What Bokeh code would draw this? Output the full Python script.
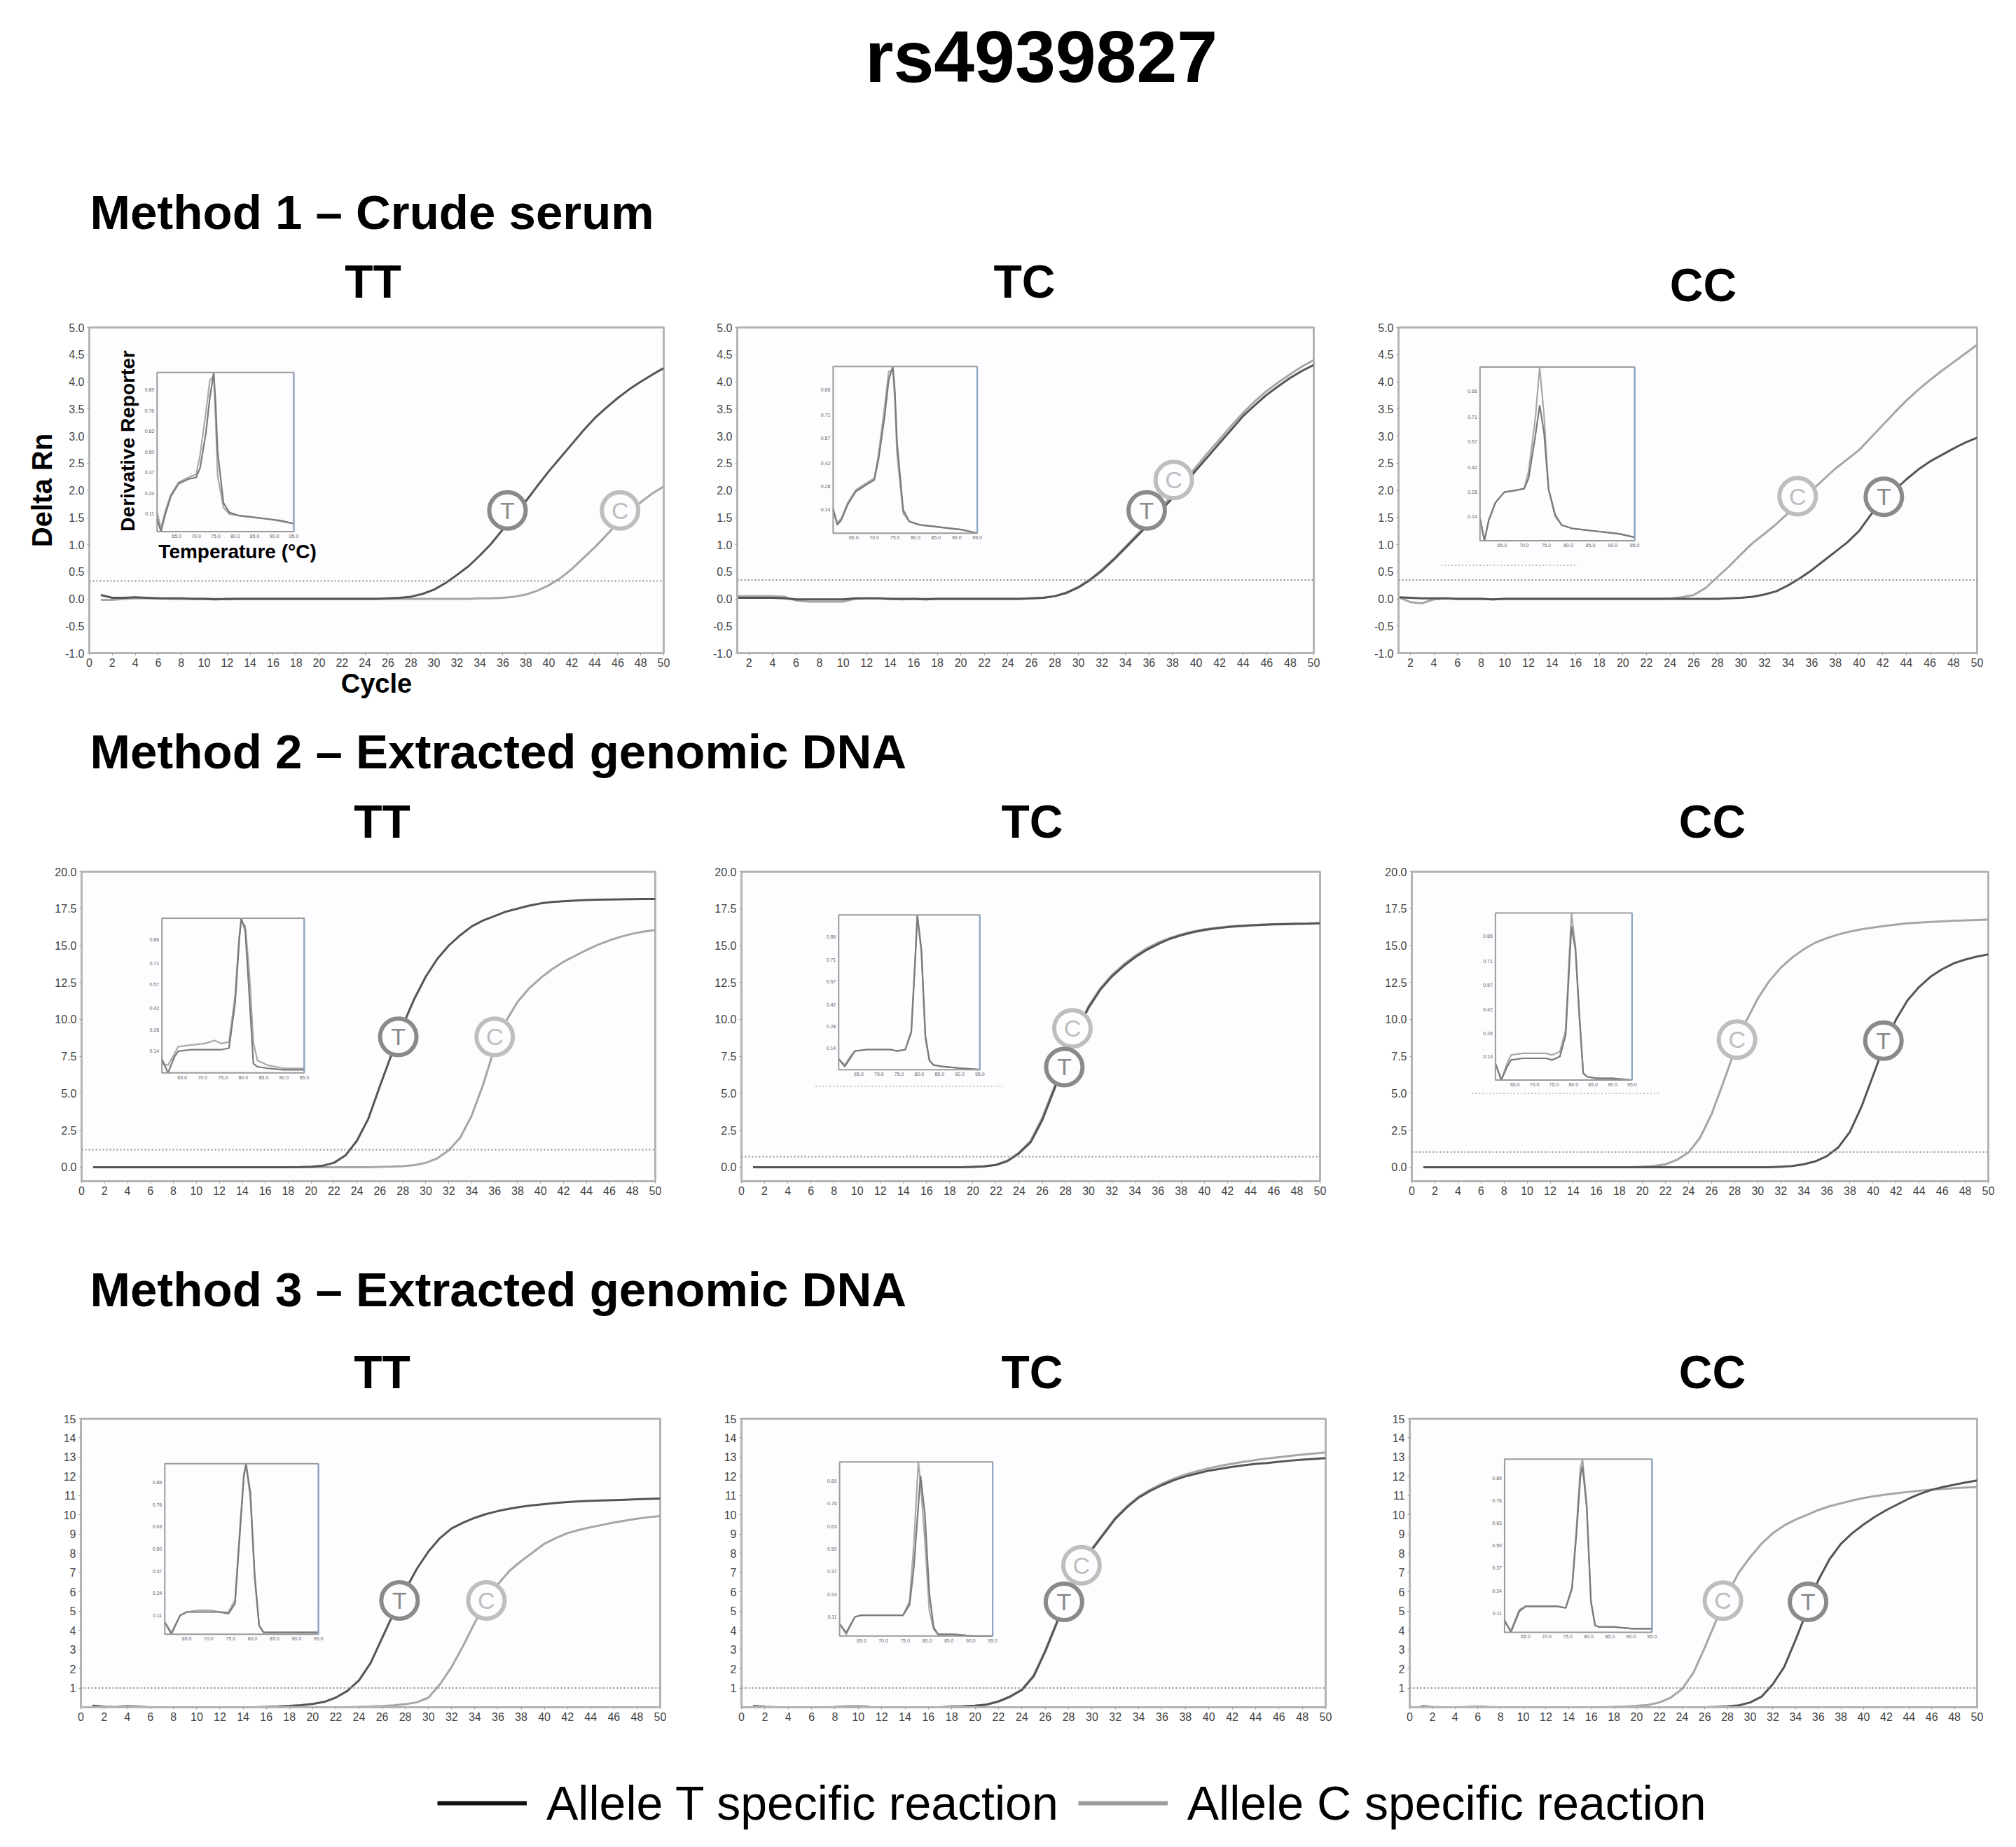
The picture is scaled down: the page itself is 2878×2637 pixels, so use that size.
import math

from bokeh.core.properties import value
from bokeh.embed import file_html
from bokeh.layouts import column, row
from bokeh.models import (FixedTicker, Label, Legend, LegendItem,
                          NumeralTickFormatter, Range1d, Span)
from bokeh.plotting import figure
from bokeh.resources import INLINE

# ---------------------------------------------------------------- data
cycles = list(range(1, 51))

# Method 1 - crude serum (Delta Rn per cycle)
m1_tt_t = [0.07, 0.02, 0.02, 0.03, 0.02, 0.01, 0.01, 0.01, 0.00, 0.00,
           -0.01, 0.00, 0.00, 0.00, 0.00, 0.00, 0.00, 0.00, 0.00, 0.00,
           0.00, 0.00, 0.00, 0.00, 0.00, 0.01, 0.02, 0.04, 0.09, 0.17,
           0.29, 0.44, 0.60, 0.80, 1.02, 1.28, 1.55, 1.80, 2.08, 2.35,
           2.60, 2.85, 3.10, 3.33, 3.52, 3.70, 3.86, 4.00, 4.13, 4.25]
m1_tt_c = [-0.02, -0.02, 0.00, 0.01, 0.01, 0.01, 0.00, 0.00, 0.00, 0.00,
           0.00, -0.01, 0.00, 0.00, 0.00, 0.00, 0.00, 0.00, 0.00, 0.00,
           0.00, 0.00, 0.00, 0.00, 0.00, 0.00, 0.00, 0.00, 0.00, 0.00,
           0.00, 0.00, 0.00, 0.01, 0.01, 0.02, 0.04, 0.08, 0.15, 0.25,
           0.38, 0.55, 0.75, 0.95, 1.17, 1.40, 1.60, 1.78, 1.94, 2.07]
m1_tc_t = [0.02, 0.02, 0.02, 0.02, 0.01, -0.01, -0.01, -0.01, -0.01, -0.01,
           0.01, 0.01, 0.01, 0.00, 0.00, 0.00, -0.01, 0.00, 0.00, 0.00,
           0.00, 0.00, 0.00, 0.00, 0.00, 0.01, 0.02, 0.05, 0.11, 0.21,
           0.35, 0.52, 0.72, 0.94, 1.16, 1.38, 1.62, 1.86, 2.11, 2.37,
           2.62, 2.87, 3.12, 3.37, 3.57, 3.76, 3.92, 4.07, 4.20, 4.31]
m1_tc_c = [0.05, 0.05, 0.05, 0.05, 0.04, -0.03, -0.05, -0.05, -0.05, -0.05,
           0.00, 0.01, 0.01, 0.00, -0.01, 0.00, 0.00, 0.00, 0.00, 0.00,
           0.00, 0.00, 0.00, 0.00, 0.00, 0.01, 0.02, 0.05, 0.12, 0.22,
           0.36, 0.54, 0.74, 0.96, 1.19, 1.42, 1.67, 1.92, 2.17, 2.43,
           2.69, 2.94, 3.19, 3.43, 3.64, 3.83, 3.99, 4.14, 4.28, 4.40]
m1_cc_t = [0.03, 0.02, 0.01, 0.01, 0.01, 0.00, 0.00, 0.00, -0.01, 0.00,
           0.00, 0.00, 0.00, 0.00, 0.00, 0.00, 0.00, 0.00, 0.00, 0.00,
           0.00, 0.00, 0.00, 0.00, 0.00, 0.00, 0.00, 0.00, 0.01, 0.02,
           0.04, 0.08, 0.14, 0.25, 0.38, 0.53, 0.70, 0.87, 1.04, 1.25,
           1.55, 1.78, 2.00, 2.20, 2.38, 2.53, 2.65, 2.77, 2.88, 2.97]
m1_cc_c = [0.03, -0.06, -0.08, -0.01, 0.01, 0.00, 0.00, 0.00, -0.01, 0.00,
           0.00, 0.00, 0.00, 0.00, 0.00, 0.00, 0.00, 0.00, 0.00, 0.00,
           0.00, 0.00, 0.00, 0.01, 0.03, 0.07, 0.20, 0.40, 0.60, 0.82,
           1.03, 1.20, 1.38, 1.58, 1.80, 2.00, 2.20, 2.40, 2.57, 2.74,
           2.97, 3.20, 3.43, 3.65, 3.85, 4.03, 4.20, 4.36, 4.52, 4.68]

# Method 2 - extracted genomic DNA
m2_tt_t = [0.00, 0.00, 0.00, 0.00, 0.00, 0.00, 0.00, 0.00, 0.00, 0.00,
           0.00, 0.00, 0.00, 0.00, 0.00, 0.00, 0.00, 0.00, 0.01, 0.03,
           0.10, 0.30, 0.80, 1.80, 3.30, 5.50, 7.60, 9.60, 11.40, 12.90,
           14.10, 15.00, 15.70, 16.30, 16.70, 17.00, 17.30, 17.50, 17.70, 17.85,
           17.95, 18.00, 18.05, 18.08, 18.10, 18.12, 18.13, 18.14, 18.15, 18.15]
m2_tt_c = [0.00, 0.00, 0.00, 0.00, 0.00, 0.00, 0.00, 0.00, 0.00, 0.00,
           0.00, 0.00, 0.00, 0.00, 0.00, 0.00, 0.00, 0.00, 0.00, 0.00,
           0.00, 0.00, 0.00, 0.00, 0.00, 0.02, 0.04, 0.07, 0.14, 0.30,
           0.60, 1.15, 2.00, 3.50, 5.60, 8.10, 9.90, 11.20, 12.10, 12.80,
           13.40, 13.90, 14.30, 14.70, 15.05, 15.35, 15.60, 15.80, 15.95, 16.05]
m2_tc_t = [0.00, 0.00, 0.00, 0.00, 0.00, 0.00, 0.00, 0.00, 0.00, 0.00,
           0.00, 0.00, 0.00, 0.00, 0.00, 0.00, 0.00, 0.00, 0.00, 0.02,
           0.06, 0.15, 0.42, 0.95, 1.70, 3.20, 5.20, 7.30, 9.20, 10.80,
           12.00, 12.90, 13.60, 14.20, 14.70, 15.10, 15.45, 15.70, 15.90, 16.05,
           16.16, 16.25, 16.31, 16.36, 16.40, 16.43, 16.45, 16.47, 16.48, 16.50]
m2_tc_c = [0.00, 0.00, 0.00, 0.00, 0.00, 0.00, 0.00, 0.00, 0.00, 0.00,
           0.00, 0.00, 0.00, 0.00, 0.00, 0.00, 0.00, 0.00, 0.00, 0.02,
           0.07, 0.17, 0.45, 1.00, 1.80, 3.35, 5.35, 7.45, 9.35, 10.90,
           12.10, 13.00, 13.70, 14.30, 14.80, 15.20, 15.50, 15.75, 15.95, 16.10,
           16.20, 16.28, 16.34, 16.38, 16.42, 16.45, 16.47, 16.49, 16.50, 16.52]
m2_cc_t = [0.00, 0.00, 0.00, 0.00, 0.00, 0.00, 0.00, 0.00, 0.00, 0.00,
           0.00, 0.00, 0.00, 0.00, 0.00, 0.00, 0.00, 0.00, 0.00, 0.00,
           0.00, 0.00, 0.00, 0.00, 0.00, 0.00, 0.00, 0.00, 0.00, 0.00,
           0.00, 0.03, 0.08, 0.20, 0.40, 0.75, 1.35, 2.40, 4.10, 6.20,
           8.30, 10.00, 11.30, 12.20, 12.90, 13.40, 13.80, 14.05, 14.25, 14.40]
m2_cc_c = [0.00, 0.00, 0.00, 0.00, 0.00, 0.00, 0.00, 0.00, 0.00, 0.00,
           0.00, 0.00, 0.00, 0.00, 0.00, 0.00, 0.00, 0.00, 0.00, 0.03,
           0.08, 0.20, 0.50, 1.00, 2.00, 3.60, 5.70, 7.90, 9.90, 11.40,
           12.60, 13.50, 14.20, 14.75, 15.20, 15.50, 15.75, 15.95, 16.10, 16.22,
           16.33, 16.42, 16.50, 16.55, 16.60, 16.64, 16.68, 16.70, 16.73, 16.75]

# Method 3 - extracted genomic DNA
m3_tt_t = [0.08, 0.03, 0.01, 0.05, 0.03, 0.00, 0.00, 0.00, 0.00, 0.00,
           0.00, 0.00, 0.00, 0.00, 0.00, 0.02, 0.04, 0.07, 0.11, 0.17,
           0.28, 0.50, 0.85, 1.40, 2.30, 3.60, 4.90, 6.10, 7.20, 8.10,
           8.80, 9.30, 9.60, 9.85, 10.05, 10.20, 10.32, 10.42, 10.50, 10.56,
           10.62, 10.67, 10.70, 10.73, 10.75, 10.77, 10.79, 10.81, 10.83, 10.85]
m3_tt_c = [0.02, 0.00, 0.00, 0.00, 0.00, 0.00, 0.00, 0.00, 0.00, 0.00,
           0.00, 0.00, 0.00, 0.00, 0.00, 0.00, 0.00, 0.00, 0.00, 0.00,
           0.00, 0.00, 0.00, 0.02, 0.04, 0.06, 0.10, 0.16, 0.26, 0.50,
           1.20, 2.10, 3.20, 4.40, 5.50, 6.40, 7.10, 7.60, 8.05, 8.50,
           8.80, 9.05, 9.22, 9.36, 9.48, 9.60, 9.70, 9.80, 9.88, 9.94]
m3_tc_t = [0.06, 0.02, 0.00, 0.00, 0.00, 0.00, 0.00, 0.01, 0.03, 0.04,
           0.01, 0.00, 0.00, 0.00, 0.00, 0.00, 0.00, 0.03, 0.05, 0.08,
           0.14, 0.30, 0.55, 0.90, 1.60, 2.90, 4.40, 5.90, 7.20, 8.20,
           9.00, 9.80, 10.40, 10.90, 11.25, 11.55, 11.80, 12.00, 12.15, 12.30,
           12.40, 12.50, 12.58, 12.65, 12.70, 12.76, 12.82, 12.87, 12.91, 12.95]
m3_tc_c = [0.05, 0.02, 0.00, 0.00, 0.00, 0.00, 0.00, 0.01, 0.02, 0.03,
           0.01, 0.00, 0.00, 0.00, 0.00, 0.00, 0.00, 0.03, 0.05, 0.08,
           0.15, 0.31, 0.57, 0.93, 1.65, 2.95, 4.45, 5.95, 7.25, 8.25,
           9.05, 9.85, 10.45, 10.95, 11.32, 11.62, 11.88, 12.10, 12.27, 12.42,
           12.55, 12.66, 12.76, 12.85, 12.93, 13.00, 13.07, 13.13, 13.19, 13.24]
m3_cc_t = [0.03, 0.00, 0.00, 0.00, 0.00, 0.00, 0.00, 0.00, 0.00, 0.00,
           0.00, 0.00, 0.00, 0.00, 0.00, 0.00, 0.00, 0.00, 0.00, 0.00,
           0.00, 0.00, 0.00, 0.00, 0.00, 0.00, 0.02, 0.05, 0.10, 0.25,
           0.55, 1.20, 2.10, 3.50, 5.00, 6.60, 7.70, 8.50, 9.05, 9.50,
           9.90, 10.25, 10.55, 10.85, 11.10, 11.30, 11.45, 11.57, 11.69, 11.79]
m3_cc_c = [0.06, 0.02, 0.00, 0.00, 0.02, 0.05, 0.02, 0.00, 0.00, 0.00,
           0.00, 0.00, 0.00, 0.00, 0.00, 0.00, 0.00, 0.02, 0.04, 0.07,
           0.12, 0.25, 0.50, 0.95, 1.80, 3.10, 4.50, 5.90, 7.00, 7.80,
           8.50, 9.05, 9.45, 9.75, 10.00, 10.25, 10.45, 10.60, 10.75, 10.88,
           10.98, 11.06, 11.13, 11.20, 11.26, 11.31, 11.35, 11.39, 11.42, 11.45]

# detection thresholds
m1_thresholds = [0.33, 0.35, 0.35]
m2_thresholds = [1.18, 0.71, 1.03]
m3_thresholds = [1.0, 1.0, 1.0]

# allele call markers (letter, cycle, Delta Rn)
m1_tt_marks = [("T", 36.4, 1.63), ("C", 46.2, 1.63)]
m1_tc_marks = [("T", 35.8, 1.63), ("C", 38.1, 2.19)]
m1_cc_marks = [("C", 34.8, 1.89), ("T", 42.1, 1.88)]
m2_tt_marks = [("T", 27.6, 8.82), ("C", 36.0, 8.82)]
m2_tc_marks = [("C", 28.6, 9.40), ("T", 27.9, 6.78)]
m2_cc_marks = [("C", 28.2, 8.64), ("T", 40.9, 8.56)]
m3_tt_marks = [("T", 27.5, 5.55), ("C", 35.0, 5.55)]
m3_tc_marks = [("T", 27.6, 5.48), ("C", 29.1, 7.38)]
m3_cc_marks = [("C", 27.6, 5.54), ("T", 35.1, 5.48)]

# melt curves (normalised derivative reporter vs temperature, deg C)
melt_temp_m1 = [60, 61, 62, 63.5, 65.5, 68, 70, 71, 72.5, 73.5,
                74.5, 75, 75.5, 77, 78.5, 81, 84.5, 88, 91.5, 95]
m1_tt_melt_t = [0.08, 0.00, 0.10, 0.22, 0.30, 0.33, 0.34, 0.40, 0.62, 0.84,
                1.00, 0.80, 0.50, 0.18, 0.12, 0.10, 0.09, 0.08, 0.07, 0.05]
m1_tt_melt_c = [0.12, 0.02, 0.12, 0.23, 0.31, 0.34, 0.36, 0.48, 0.75, 0.95,
                0.98, 0.70, 0.35, 0.15, 0.11, 0.10, 0.09, 0.08, 0.065, 0.05]
m1_tc_melt_t = [0.14, 0.05, 0.08, 0.17, 0.25, 0.29, 0.32, 0.44, 0.70, 0.92,
                1.00, 0.85, 0.55, 0.14, 0.07, 0.05, 0.04, 0.03, 0.02, 0.00]
m1_tc_melt_c = [0.15, 0.06, 0.09, 0.18, 0.26, 0.30, 0.33, 0.47, 0.76, 0.97,
                0.98, 0.80, 0.48, 0.12, 0.07, 0.05, 0.04, 0.03, 0.02, 0.00]
m1_cc_melt_t = [0.13, 0.00, 0.12, 0.22, 0.28, 0.29, 0.30, 0.36, 0.60, 0.78,
                0.62, 0.46, 0.30, 0.15, 0.09, 0.07, 0.06, 0.05, 0.04, 0.02]
m1_cc_melt_c = [0.13, 0.00, 0.12, 0.22, 0.28, 0.29, 0.30, 0.40, 0.70, 1.00,
                0.72, 0.50, 0.30, 0.14, 0.09, 0.07, 0.06, 0.05, 0.04, 0.02]

melt_temp_m2 = [60, 61.5, 63, 64, 67, 70.5, 73, 74.5, 76.5, 78,
                79, 79.5, 80.5, 81.5, 82.5, 83.5, 86, 90, 95]
m2_tt_melt_t = [0.09, 0.00, 0.10, 0.14, 0.15, 0.15, 0.15, 0.15, 0.16, 0.45,
                0.85, 1.00, 0.92, 0.50, 0.06, 0.04, 0.03, 0.02, 0.02]
m2_tt_melt_c = [0.06, 0.05, 0.12, 0.17, 0.18, 0.19, 0.21, 0.19, 0.20, 0.50,
                0.88, 0.98, 0.95, 0.65, 0.20, 0.08, 0.05, 0.03, 0.03]
m2_tc_melt_t = [0.07, 0.02, 0.08, 0.12, 0.13, 0.13, 0.13, 0.12, 0.13, 0.24,
                0.72, 1.00, 0.78, 0.22, 0.06, 0.03, 0.02, 0.01, 0.00]
m2_tc_melt_c = [0.07, 0.03, 0.09, 0.12, 0.13, 0.13, 0.13, 0.12, 0.13, 0.25,
                0.74, 0.99, 0.76, 0.20, 0.06, 0.03, 0.02, 0.01, 0.00]
m2_cc_melt_t = [0.10, 0.00, 0.08, 0.12, 0.13, 0.13, 0.13, 0.12, 0.14, 0.27,
                0.72, 0.92, 0.78, 0.38, 0.04, 0.02, 0.01, 0.01, 0.00]
m2_cc_melt_c = [0.10, 0.00, 0.10, 0.15, 0.16, 0.16, 0.16, 0.15, 0.17, 0.30,
                0.78, 1.00, 0.80, 0.40, 0.04, 0.02, 0.01, 0.01, 0.00]

melt_temp_m3 = [60, 61.5, 63.5, 65, 67.5, 70.5, 72.5, 74.5, 76, 77,
                78, 78.5, 79.5, 80.5, 81.5, 82.5, 86, 90.5, 95]
m3_tt_melt_t = [0.07, 0.00, 0.11, 0.13, 0.13, 0.13, 0.13, 0.12, 0.18, 0.55,
                0.92, 1.00, 0.83, 0.34, 0.05, 0.01, 0.01, 0.01, 0.01]
m3_tt_melt_c = [0.07, 0.01, 0.11, 0.13, 0.14, 0.14, 0.13, 0.13, 0.20, 0.58,
                0.94, 0.99, 0.80, 0.32, 0.05, 0.01, 0.01, 0.01, 0.01]
m3_tc_melt_t = [0.07, 0.02, 0.11, 0.12, 0.12, 0.12, 0.12, 0.12, 0.18, 0.40,
                0.75, 0.92, 0.70, 0.25, 0.05, 0.01, 0.01, 0.00, 0.00]
m3_tc_melt_c = [0.07, 0.01, 0.11, 0.12, 0.12, 0.12, 0.12, 0.12, 0.20, 0.54,
                1.00, 0.88, 0.55, 0.15, 0.04, 0.01, 0.01, 0.00, 0.00]
m3_cc_melt_t = [0.07, 0.00, 0.12, 0.15, 0.15, 0.15, 0.15, 0.14, 0.25, 0.55,
                0.90, 0.96, 0.72, 0.18, 0.04, 0.03, 0.03, 0.02, 0.02]
m3_cc_melt_c = [0.06, 0.01, 0.13, 0.15, 0.15, 0.15, 0.15, 0.14, 0.26, 0.58,
                0.95, 1.00, 0.74, 0.17, 0.04, 0.03, 0.03, 0.02, 0.02]

# tick labels
x_ticks_from0 = list(range(0, 51, 2))
x_ticks_from2 = list(range(2, 51, 2))
m1_y_ticks = [-1.0, -0.5, 0.0, 0.5, 1.0, 1.5, 2.0, 2.5, 3.0, 3.5, 4.0, 4.5, 5.0]
m2_y_ticks = [0.0, 2.5, 5.0, 7.5, 10.0, 12.5, 15.0, 17.5, 20.0]
m3_y_ticks = [1, 2, 3, 4, 5, 6, 7, 8, 9, 10, 11, 12, 13, 14, 15]
melt_x_ticks = [65, 70, 75, 80, 85, 90, 95]
melt_y_ticks_7 = [0.11, 0.24, 0.37, 0.50, 0.63, 0.76, 0.89]
melt_y_ticks_6 = [0.14, 0.28, 0.42, 0.57, 0.71, 0.86]

genotypes = ["TT", "TC", "CC"]
methods = ["Method 1 \u2013 Crude serum",
           "Method 2 \u2013 Extracted genomic DNA",
           "Method 3 \u2013 Extracted genomic DNA"]

# ---------------------------------------------------------------- style
FONT = "Liberation Sans"
BG = "#fdfcff"
FRAME = "#b4b4b4"
T_COL = "#555555"
C_COL = "#a6a6a6"
RING = {"T": "#8a8a8a", "C": "#bebebe"}
MELT_T = "#7a7a7a"
MELT_C = "#a9a9a9"
WIDTH = 2870

PANELS = [
    [dict(t=m1_tt_t, c=m1_tt_c, xr=(0, 50), yr=(-1.0, 5.0), xt=x_ticks_from0, yt=m1_y_ticks, yf="0.0",
          thr=m1_thresholds[0], marks=m1_tt_marks, inset=(5.9, 17.8, 1.24, 4.17),
          mx=melt_temp_m1, mt=m1_tt_melt_t, mc=m1_tt_melt_c, myt=melt_y_ticks_7, rule=None),
     dict(t=m1_tc_t, c=m1_tc_c, xr=(1, 50), yr=(-1.0, 5.0), xt=x_ticks_from2, yt=m1_y_ticks, yf="0.0",
          thr=m1_thresholds[1], marks=m1_tc_marks, inset=(9.15, 21.4, 1.21, 4.28),
          mx=melt_temp_m1, mt=m1_tc_melt_t, mc=m1_tc_melt_c, myt=melt_y_ticks_6, rule=None),
     dict(t=m1_cc_t, c=m1_cc_c, xr=(1, 50), yr=(-1.0, 5.0), xt=x_ticks_from2, yt=m1_y_ticks, yf="0.0",
          thr=m1_thresholds[2], marks=m1_cc_marks, inset=(7.9, 21.0, 1.07, 4.27),
          mx=melt_temp_m1, mt=m1_cc_melt_t, mc=m1_cc_melt_c, myt=melt_y_ticks_6, rule=(4.6, 16.2, 0.62))],
    [dict(t=m2_tt_t, c=m2_tt_c, xr=(0, 50), yr=(-0.95, 20.0), xt=x_ticks_from0, yt=m2_y_ticks, yf="0.0",
          thr=m2_thresholds[0], marks=m2_tt_marks, inset=(7.0, 19.4, 6.38, 16.85),
          mx=melt_temp_m2, mt=m2_tt_melt_t, mc=m2_tt_melt_c, myt=melt_y_ticks_6, rule=None),
     dict(t=m2_tc_t, c=m2_tc_c, xr=(0, 50), yr=(-0.95, 20.0), xt=x_ticks_from0, yt=m2_y_ticks, yf="0.0",
          thr=m2_thresholds[1], marks=m2_tc_marks, inset=(8.4, 20.6, 6.6, 17.07),
          mx=melt_temp_m2, mt=m2_tc_melt_t, mc=m2_tc_melt_c, myt=melt_y_ticks_6, rule=(6.4, 22.5, 5.47)),
     dict(t=m2_cc_t, c=m2_cc_c, xr=(0, 50), yr=(-0.95, 20.0), xt=x_ticks_from0, yt=m2_y_ticks, yf="0.0",
          thr=m2_thresholds[2], marks=m2_cc_marks, inset=(7.25, 19.1, 5.9, 17.2),
          mx=melt_temp_m2, mt=m2_cc_melt_t, mc=m2_cc_melt_c, myt=melt_y_ticks_6, rule=(5.2, 21.4, 5.0))],
    [dict(t=m3_tt_t, c=m3_tt_c, xr=(0, 50), yr=(0, 15), xt=x_ticks_from0, yt=m3_y_ticks, yf="0",
          thr=m3_thresholds[0], marks=m3_tt_marks, inset=(7.24, 20.5, 3.8, 12.66),
          mx=melt_temp_m3, mt=m3_tt_melt_t, mc=m3_tt_melt_c, myt=melt_y_ticks_7, rule=None),
     dict(t=m3_tc_t, c=m3_tc_c, xr=(0, 50), yr=(0, 15), xt=x_ticks_from0, yt=m3_y_ticks, yf="0",
          thr=m3_thresholds[1], marks=m3_tc_marks, inset=(8.4, 21.5, 3.7, 12.75),
          mx=melt_temp_m3, mt=m3_tc_melt_t, mc=m3_tc_melt_c, myt=melt_y_ticks_7, rule=None),
     dict(t=m3_cc_t, c=m3_cc_c, xr=(0, 50), yr=(0, 15), xt=x_ticks_from0, yt=m3_y_ticks, yf="0",
          thr=m3_thresholds[2], marks=m3_cc_marks, inset=(8.36, 21.35, 3.9, 12.9),
          mx=melt_temp_m3, mt=m3_cc_melt_t, mc=m3_cc_melt_c, myt=melt_y_ticks_7, rule=None)],
]

# canvas height, border top, border bottom, [(width, border left, border right)]
ROW_SIZES = [
    (560, 17, 78, [(1000, 127, 53), (935, 52, 60), (935, 61, 48)]),
    (545, 29, 74, [(1000, 116, 65), (955, 58, 71), (915, 60, 32)]),
    (490, 25, 53, [(1000, 115, 58), (955, 58, 63), (915, 57, 48)]),
]


def band(y_top, y_bot):
    p = figure(width=WIDTH, height=y_bot - y_top, x_range=Range1d(0, WIDTH), y_range=Range1d(y_bot, y_top),
               x_axis_location=None, y_axis_location=None, min_border=0, title=None,
               toolbar_location=None, output_backend="svg")
    p.grid.visible = False
    p.outline_line_color = None
    p.background_fill_color = None
    return p


def text(p, x, y, s, size, bold=True, align="left", **kw):
    # y is the vertical centre of the text
    p.add_layout(Label(x=x, y=y, text=s, text_font=FONT, text_font_size=f"{size}px",
                       text_font_style="bold" if bold else "normal", text_align=align,
                       text_baseline="middle", text_color="black", **kw))


def add_inset(p, spec):
    x0, x1, y0, y1 = spec["inset"]
    tx, ty = Range1d(60, 95), Range1d(0, 1)
    sub = p.subplot(x_source=tx, y_source=ty, x_target=Range1d(x0, x1), y_target=Range1d(y0, y1))
    sub.line(spec["mx"], spec["mc"], line_color=MELT_C, line_width=2.2)
    sub.line(spec["mx"], spec["mt"], line_color=MELT_T, line_width=2.2)
    sub.quad(left=[tx.start], right=[tx.end], bottom=[ty.start], top=[ty.end],
             fill_color=None, line_color="#9a9a9a", line_width=2)
    sub.segment(x0=[tx.end], y0=[ty.start], x1=[tx.end], y1=[ty.end], line_color="#8aa6c6", line_width=2)
    sub.text(x=melt_x_ticks, y=[ty.start] * len(melt_x_ticks), text=[f"{v}.0" for v in melt_x_ticks],
             text_font=value(FONT), text_font_size="7px", text_color="#666", text_align="center",
             text_baseline="top", y_offset=4)
    sub.text(x=[tx.start] * len(spec["myt"]), y=spec["myt"], text=[f"{v:.2f}" for v in spec["myt"]],
             text_font=value(FONT), text_font_size="7px", text_color="#666", text_align="right",
             text_baseline="middle", x_offset=-4)


def panel(spec, size, bt, bb, height):
    width, bl, br = size
    p = figure(width=width, height=height, x_range=Range1d(*spec["xr"]), y_range=Range1d(*spec["yr"]),
               min_border_left=bl, min_border_right=br, min_border_top=bt, min_border_bottom=bb,
               title=None, toolbar_location=None, output_backend="svg")
    p.grid.visible = False
    p.background_fill_color = BG
    p.outline_line_color = FRAME
    p.outline_line_width = 3
    p.xaxis.ticker = FixedTicker(ticks=spec["xt"])
    p.yaxis.ticker = FixedTicker(ticks=spec["yt"])
    p.xaxis.formatter = NumeralTickFormatter(format="0")
    p.yaxis.formatter = NumeralTickFormatter(format=spec["yf"])
    p.axis.axis_line_color = FRAME
    p.axis.axis_line_width = 3
    p.axis.major_tick_line_color = "#999"
    p.axis.major_tick_in = 0
    p.axis.major_tick_out = 3
    p.axis.minor_tick_line_color = None
    p.axis.major_label_text_font = FONT
    p.axis.major_label_text_font_size = "16px"
    p.axis.major_label_text_color = "#444"
    p.axis.major_label_standoff = 4
    p.axis.axis_label_text_font = FONT
    p.axis.axis_label_text_font_style = "bold"
    p.axis.axis_label_text_color = "black"

    p.add_layout(Span(location=spec["thr"], dimension="width", line_color="#8c8c8c",
                      line_dash="2 3", line_width=2))
    if spec["rule"]:
        rx0, rx1, ry = spec["rule"]
        p.segment(x0=[rx0], y0=[ry], x1=[rx1], y1=[ry], line_color="#c4c4c4", line_dash="2 3", line_width=2)

    add_inset(p, spec)

    p.line(cycles, spec["c"], line_color=C_COL, line_width=3)
    p.line(cycles, spec["t"], line_color=T_COL, line_width=3)

    for letter, mx, my in spec["marks"]:
        p.scatter([mx], [my], size=52, marker="circle", fill_color=BG,
                  line_color=RING[letter], line_width=6)
        p.text([mx], [my], text=[letter], text_font=value(FONT), text_font_size="34px",
               text_color=RING[letter], text_align="center", text_baseline="middle")
    return p


# ---------------------------------------------------------------- build
rows = []
for r, (height, bt, bb, sizes) in enumerate(ROW_SIZES):
    rows.append([panel(PANELS[r][i], sizes[i], bt, bb, height) for i in range(3)])

# axis names on the first panel, inset labels inside it
first = rows[0][0]
first.yaxis.axis_label = "Delta Rn"
first.yaxis.axis_label_text_font_size = "40px"
first.yaxis.axis_label_standoff = 8
first.xaxis.axis_label = "Cycle"
first.xaxis.axis_label_text_font_size = "38px"
first.xaxis.axis_label_standoff = 0
text(first, 3.35, 2.91, "Derivative Reporter", 28, angle=math.pi / 2, align="center")
text(first, 12.9, 0.87, "Temperature (\u00b0C)", 28, align="center")

head = band(0, 450)
text(head, 1486, 80, "rs4939827", 104, align="center")
text(head, 128, 303, methods[0], 69)
for g, x, y in zip(genotypes, [532, 1462, 2431], [401, 401, 406]):
    text(head, x, y, g, 66, align="center")

mid2 = band(1010, 1215)
text(mid2, 128, 1073, methods[1], 69)
for g, x in zip(genotypes, [545, 1473, 2444]):
    text(mid2, x, 1172, g, 66, align="center")

mid3 = band(1760, 2000)
text(mid3, 128, 1841, methods[2], 69)
for g, x in zip(genotypes, [545, 1473, 2444]):
    text(mid3, x, 1958, g, 66, align="center")

foot = band(2490, 2629)
r_t = foot.line(x=[math.nan, math.nan], y=[math.nan, math.nan], line_color="#111111", line_width=6)
r_c = foot.line(x=[math.nan, math.nan], y=[math.nan, math.nan], line_color="#9c9c9c", line_width=6)
legend = Legend(items=[LegendItem(label="Allele T specific reaction", renderers=[r_t]),
                       LegendItem(label="Allele C specific reaction", renderers=[r_c])],
                orientation="horizontal", location=(624, 16), glyph_width=128, glyph_height=40,
                label_standoff=28, spacing=28, padding=0, margin=0,
                border_line_color=None, background_fill_alpha=0,
                label_text_font=FONT, label_text_font_size="68px", label_text_color="black")
foot.add_layout(legend)

page = column(head, row(*rows[0], spacing=0), mid2, row(*rows[1], spacing=0),
              mid3, row(*rows[2], spacing=0), foot, spacing=0)

open("out.html", "w").write(file_html(page, INLINE))
